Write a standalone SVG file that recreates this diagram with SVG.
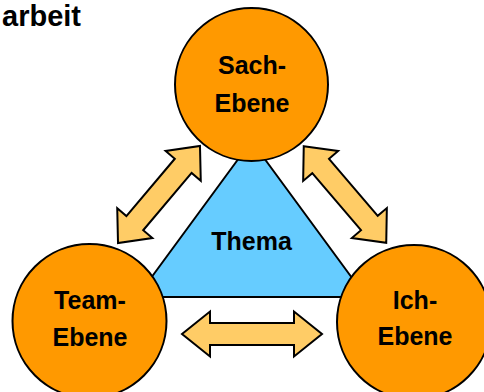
<svg xmlns="http://www.w3.org/2000/svg" width="484" height="392" viewBox="0 0 484 392">
  <style>
    .circle { fill: #FF9900; stroke: #000; stroke-width: 2; }
    .tri { fill: #66CCFF; stroke: #000; stroke-width: 2; stroke-linejoin: round; }
    .arrow { fill: #FFCC66; stroke: #000; stroke-width: 2; stroke-linejoin: miter; }
    .lbl { font-family: "Liberation Sans", Arial, sans-serif; font-weight: bold; font-size: 25px; fill: #000; text-anchor: middle; }
    .title { font-family: "Liberation Sans", Arial, sans-serif; font-weight: bold; font-size: 29px; fill: #000; text-anchor: start; }
  </style>
  <rect width="484" height="392" fill="#fff"/>
  <text class="title" x="2" y="26">arbeit</text>
  <g id="connectors">
    <path class="arrow" transform="translate(159,194.5) rotate(-49.8)" d="M-63.5 0 L-37.5 -23 L-37.5 -11 L37.5 -11 L37.5 -23 L63.5 0 L37.5 23 L37.5 11 L-37.5 11 L-37.5 23 Z"/>
    <path class="arrow" transform="translate(345,194.5) rotate(49.5)" d="M-63.5 0 L-37.5 -23 L-37.5 -11 L37.5 -11 L37.5 -23 L63.5 0 L37.5 23 L37.5 11 L-37.5 11 L-37.5 23 Z"/>
    <path class="arrow" transform="translate(252,334)" d="M-70 0 L-42 -22.5 L-42 -11 L42 -11 L42 -22.5 L70 0 L42 22.5 L42 11 L-42 11 L-42 22.5 Z"/>
  </g>
  <g id="thema">
    <polygon class="tri" points="251.5,141 137,297 366,297"/>
    <text class="lbl" x="251.5" y="250">Thema</text>
  </g>
  <g id="sach">
    <circle class="circle" cx="251.5" cy="84.5" r="76.5"/>
    <text class="lbl" x="252" y="74">Sach-</text>
    <text class="lbl" x="252" y="112">Ebene</text>
  </g>
  <g id="team">
    <circle class="circle" cx="89.5" cy="321" r="77"/>
    <text class="lbl" x="90" y="309">Team-</text>
    <text class="lbl" x="90" y="346">Ebene</text>
  </g>
  <g id="ich">
    <circle class="circle" cx="414" cy="322" r="77"/>
    <text class="lbl" x="415" y="309">Ich-</text>
    <text class="lbl" x="415" y="345">Ebene</text>
  </g>
</svg>
